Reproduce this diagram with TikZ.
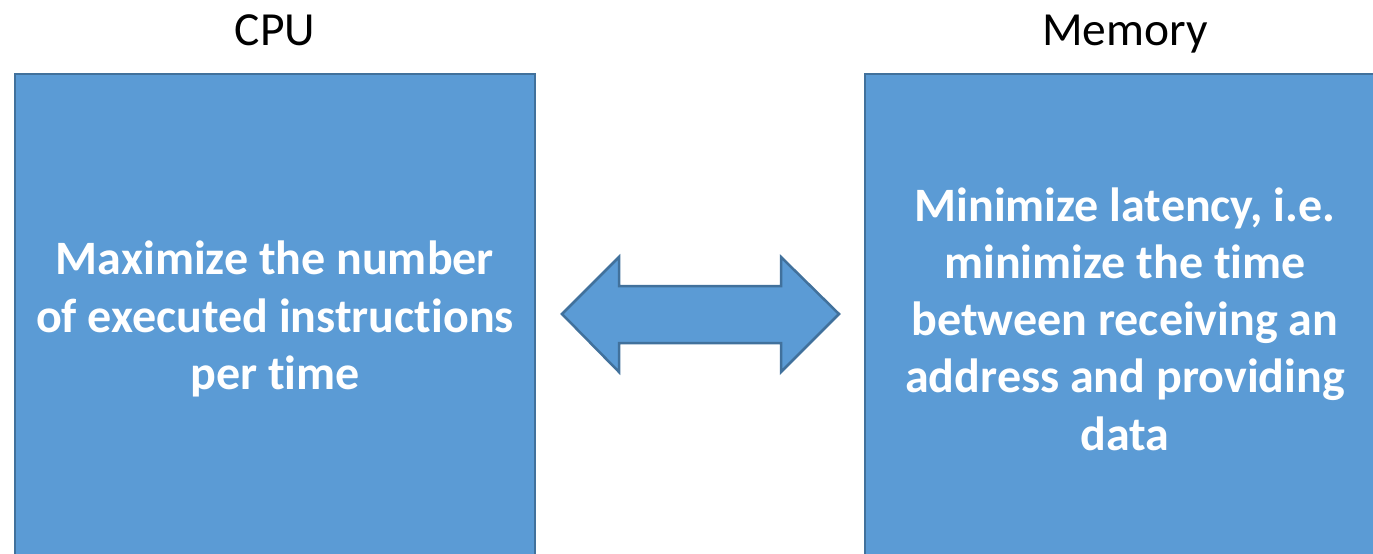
\documentclass[tikz,border=0pt]{standalone}
\usepackage{fontspec}
\setmainfont[Ligatures={NoCommon}]{Carlito}
\definecolor{boxfill}{HTML}{5B9BD5}
\definecolor{boxline}{HTML}{41719C}
\begin{document}
\begin{tikzpicture}[x=1pt,y=-1pt,
  panel/.style={draw=boxline,fill=boxfill,line width=2.5pt,minimum width=520pt,minimum height=490pt,
    inner sep=0pt,text=white,align=center,font=\fontsize{48}{57.3}\selectfont\bfseries},
  title/.style={font=\fontsize{47.5}{57}\selectfont,text=black,inner sep=0pt,anchor=base},
  bigarrow/.style={draw=boxline,fill=boxfill,line width=2.5pt,line join=miter}]
\useasboundingbox (0,0) rectangle (1373,554);
\clip (0,0) rectangle (1373,554);
\node[panel] (cpu) at (275,319) {Maximize the number\\of executed instructions\\per time};
\node[panel] (mem) at (1125,319) {Minimize latency, i.e.\\minimize the time\\between receiving an\\address and providing\\data};
\node[title] (cpulabel) at (275,45) {CPU};
\node[title] (memlabel) at (1125,45) {Memory};
\draw[bigarrow] (562,314) -- (619,257) -- (619,286) -- (781,286) -- (781,257) -- (839,314)
  -- (781,372) -- (781,343) -- (619,343) -- (619,372) -- cycle;
\end{tikzpicture}
\end{document}
